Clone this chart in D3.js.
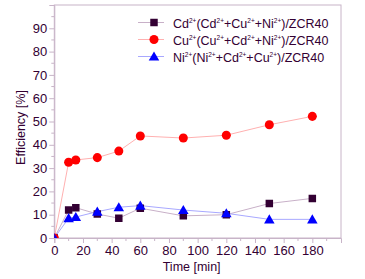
<!DOCTYPE html>
<html><head><meta charset="utf-8">
<script src="https://cdn.jsdelivr.net/npm/d3@7"></script>
<style>body{margin:0;background:#fff}svg{display:block}text{font-family:"Liberation Sans",Arial,sans-serif}</style>
</head><body>
<svg id="c" width="365" height="279"></svg>
<script>
const times = [0, 10, 15, 30, 45, 60, 90, 120, 150, 180];
const cdValues = [0, 12.0, 13.0, 10.3, 8.5, 12.8, 9.5, 10.0, 14.8, 17.0];
const cuValues = [0, 32.5, 33.5, 34.5, 37.3, 43.8, 42.9, 44.1, 48.6, 52.2];
const niValues = [0, 8.5, 9.0, 11.3, 13.2, 13.9, 12.0, 10.6, 8.0, 8.0];
const xTickLabels = [0, 20, 40, 60, 80, 100, 120, 140, 160, 180];
const yTickLabels = [0, 10, 20, 30, 40, 50, 60, 70, 80, 90];
const seriesNames = ["Cd", "Cu", "Ni"];

const textColor = "#330033";
const axisColor = "#c8b4c8";
const svg = d3.select("#c");
const L = 54.3, R = 341, T = 5, B = 238;
const x = d3.scaleLinear().domain([0, 200]).range([L, R]);
const y = d3.scaleLinear().domain([0, 100]).range([B, T]);

svg.append("defs").append("clipPath").attr("id", "clip")
  .append("rect").attr("x", L).attr("y", T).attr("width", R - L).attr("height", B - T);

svg.append("rect").attr("x", L).attr("y", T).attr("width", R - L).attr("height", B - T)
  .attr("fill", "none").attr("stroke", axisColor).attr("stroke-width", 1);

const xAxis = d3.axisBottom(x).tickValues(xTickLabels).tickSize(5).tickPadding(3).tickFormat(d3.format("d"));
const gx = svg.append("g").attr("transform", `translate(0,${B})`).call(xAxis);
const xMinor = d3.range(10, 200, 20);
gx.selectAll(".minor").data(xMinor).enter().append("line")
  .attr("x1", d => x(d)).attr("x2", d => x(d)).attr("y1", 0).attr("y2", 3).attr("stroke", axisColor);
const yAxis = d3.axisLeft(y).tickValues(yTickLabels).tickSize(5).tickPadding(2).tickFormat(d3.format("d"));
const gy = svg.append("g").attr("transform", `translate(${L},0)`).call(yAxis);
const yMinor = d3.range(5, 100, 10);
gy.selectAll(".minor").data(yMinor).enter().append("line")
  .attr("y1", d => y(d)).attr("y2", d => y(d)).attr("x1", 0).attr("x2", -3).attr("stroke", axisColor);
[gx, gy].forEach(g => {
  g.select(".domain").attr("stroke", axisColor);
  g.selectAll(".tick line").attr("stroke", axisColor);
  g.selectAll(".tick text").attr("fill", textColor).style("font-size", "13px").style("font-family", "Liberation Sans, Arial, sans-serif");
});

svg.append("text").attr("x", x(100) - 6).attr("y", 271).attr("text-anchor", "middle")
  .attr("fill", textColor).style("font-size", "12.5px").text("Time [min]");
svg.append("text").attr("transform", `translate(25,${y(50) + 6}) rotate(-90)`).attr("text-anchor", "middle")
  .attr("fill", textColor).style("font-size", "12.5px").text("Efficiency [%]");

const series = [
  {name: seriesNames[0], values: cdValues, color: "#330033", line: "#c8b0c8", shape: "square"},
  {name: seriesNames[1], values: cuValues, color: "#ff0000", line: "#ffb0b0", shape: "circle"},
  {name: seriesNames[2], values: niValues, color: "#0000ff", line: "#a8a8ff", shape: "triangle"}
];
const symFor = s => s === "square" ? d3.symbol(d3.symbolSquare, 56) : s === "circle" ? d3.symbol(d3.symbolCircle, 64) : d3.symbol(d3.symbolTriangle, 48);

const plot = svg.append("g").attr("clip-path", "url(#clip)");
series.forEach(s => {
  const pts = times.map((t, i) => [t, s.values[i]]);
  plot.append("path").datum(pts).attr("fill", "none").attr("stroke", s.line).attr("stroke-width", 1)
    .attr("d", d3.line().x(d => x(d[0])).y(d => y(d[1])));
});
series.forEach(s => {
  const pts = times.map((t, i) => [t, s.values[i]]);
  plot.selectAll(null).data(pts).enter().append("path")
    .attr("transform", d => `translate(${x(d[0])},${y(d[1]) + (s.shape === "triangle" ? 1 : 0)})`)
    .attr("d", symFor(s.shape)).attr("fill", s.color);
});

const legendLabels = [
  ["Cd", "(Cd", "+Cu", "+Ni", ")/ZCR40"],
  ["Cu", "(Cu", "+Cd", "+Ni", ")/ZCR40"],
  ["Ni", "(Ni", "+Cd", "+Cu", ")/ZCR40"]
];
series.forEach((s, i) => {
  const ly = 22.5 + i * 17;
  svg.append("line").attr("x1", 138).attr("x2", 164).attr("y1", ly).attr("y2", ly).attr("stroke", s.line);
  svg.append("path").attr("transform", `translate(154,${ly + (s.shape === "triangle" ? 1 : 0)})`).attr("d", symFor(s.shape)).attr("fill", s.color);
  const t = svg.append("text").attr("x", 173).attr("y", ly + 5).attr("fill", textColor).style("font-size", "12.5px");
  const parts = legendLabels[i];
  for (let k = 0; k < 4; k++) {
    t.append("tspan").attr("dy", k === 0 ? 0 : 5).text(parts[k]);
    t.append("tspan").attr("dy", -5).style("font-size", "6.5px").text("2+");
  }
  t.append("tspan").attr("dy", 5).text(parts[4]);
});
</script>
</body></html>
